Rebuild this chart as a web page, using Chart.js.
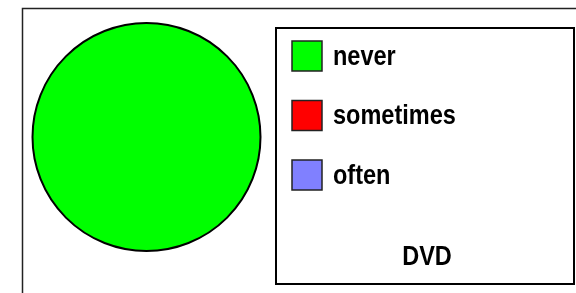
<!DOCTYPE html>
<html lang="en">

<head>
    <meta charset="UTF-8">
    <title>DVD</title>
    <style>
        body { margin: 0; background: #fff; }
        canvas { display: block; }
    </style>
</head>

<body>
    <canvas id="myChart" width="576" height="293"></canvas>
    <script src="https://cdn.jsdelivr.net/npm/chart.js@4/dist/chart.umd.min.js"></script>
    <script>
        const labels = ['never', 'sometimes', 'often']
        const values = [100, 0, 0]
        const colors = ['#00ff00', '#ff0000', '#8080ff']
        const title = 'DVD'

        const fontFamily = "'Liberation Sans', Arial, sans-serif"
        const squeeze = 0.84 // fake a narrow font

        function narrowText(c, txt, x, y, align) {
            c.save()
            c.translate(x, y)
            c.scale(squeeze, 1)
            c.textAlign = align
            c.fillText(txt, 0, 0)
            c.restore()
        }

        const boxPlugin = {
            id: 'boxPlugin',
            beforeDraw(chart) {
                const c = chart.ctx
                c.save()
                c.fillStyle = '#fff'
                c.fillRect(0, 0, chart.width, chart.height)
                c.strokeStyle = '#222'
                c.lineWidth = 1.5
                c.beginPath()
                c.moveTo(22.5, 293)
                c.lineTo(22.5, 8.5)
                c.lineTo(576, 8.5)
                c.stroke()
                c.restore()
            },
            afterDatasetsDraw(chart) {
                // outline of the pie, from the arc the library laid out
                const arc = chart.getDatasetMeta(0).data[0]
                const c = chart.ctx
                c.save()
                c.strokeStyle = '#000'
                c.lineWidth = 2
                c.beginPath()
                c.arc(arc.x, arc.y, arc.outerRadius, 0, Math.PI * 2)
                c.stroke()
                c.restore()
            },
            afterDraw(chart) {
                const c = chart.ctx
                const ds = chart.data.datasets[0]
                c.save()
                c.strokeStyle = '#000'
                c.lineWidth = 2
                c.strokeRect(276, 28, 298, 256)

                c.font = 'bold 28px ' + fontFamily
                c.textBaseline = 'middle'
                chart.data.labels.forEach((lab, i) => {
                    const y = 41 + i * 59.5
                    c.fillStyle = ds.backgroundColor[i]
                    c.fillRect(292, y, 30, 30)
                    c.lineWidth = 1.5
                    c.strokeStyle = '#222'
                    c.strokeRect(292, y, 30, 30)
                    c.fillStyle = '#000'
                    narrowText(c, lab, 333, y + 16, 'left')
                })
                narrowText(c, title, 427, 257, 'center')
                c.restore()
            }
        }

        const ctx = document.querySelector('#myChart').getContext('2d')
        let chart = new Chart(ctx, {
            type: 'pie',
            data: {
                labels: labels,
                datasets: [{
                    data: values,
                    backgroundColor: colors,
                    borderWidth: 0
                }]
            },
            options: {
                responsive: false,
                animation: false,
                layout: {
                    padding: { left: 32, top: 23, right: 315, bottom: 42 }
                },
                plugins: {
                    legend: { display: false },
                    tooltip: { enabled: false }
                }
            },
            plugins: [boxPlugin]
        })
    </script>
</body>

</html>
